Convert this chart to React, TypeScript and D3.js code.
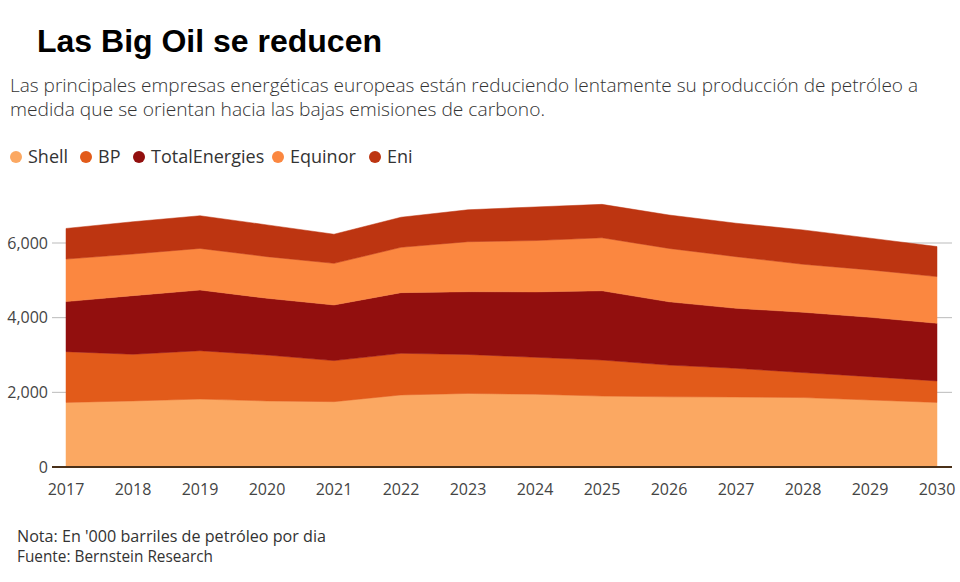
import React from 'react';
import * as d3 from 'd3';

// barriles de petróleo ('000/día)
const years = [2017, 2018, 2019, 2020, 2021, 2022, 2023, 2024, 2025, 2026, 2027, 2028, 2029, 2030];
const shell = [1730, 1770, 1820, 1770, 1750, 1930, 1970, 1950, 1900, 1880, 1875, 1860, 1795, 1730];
const bp = [1360, 1250, 1295, 1230, 1100, 1115, 1045, 990, 965, 850, 770, 670, 625, 575];
const totalEnergies = [1340, 1570, 1625, 1520, 1490, 1625, 1680, 1750, 1855, 1695, 1605, 1615, 1590, 1545];
const equinor = [1140, 1115, 1115, 1115, 1115, 1215, 1340, 1375, 1420, 1430, 1385, 1285, 1270, 1250];
const eni = [820, 865, 875, 850, 780, 805, 855, 900, 895, 895, 895, 920, 850, 805];
const yTicks = [0, 2000, 4000, 6000];

const seriesNames = ['Shell', 'BP', 'TotalEnergies', 'Equinor', 'Eni'];
const seriesValues = [shell, bp, totalEnergies, equinor, eni];
const colors = ['#fba862', '#e25b1a', '#920f0e', '#fb8740', '#bd3511'];

const W = 960;
const H = 582;

export default function App() {
  const rows = years.map((yr, i) => {
    const r: any = { year: yr };
    seriesNames.forEach((n, j) => (r[n] = seriesValues[j][i]));
    return r;
  });
  const stacked = d3.stack<any>().keys(seriesNames)(rows);

  const x = d3.scaleLinear().domain([2017, 2030]).range([66, 937]);
  const y = d3.scaleLinear().domain([0, 6000]).range([467, 243]);

  const area = d3
    .area<any>()
    .x((d) => x(d.data.year))
    .y0((d) => y(d[0]))
    .y1((d) => y(d[1]));

  const fmt = d3.format(',');
  const sans = "'Open Sans', 'Noto Sans', sans-serif";
  const legendX = [16, 86, 139, 278, 375];

  return (
    <svg width={W} height={H} style={{ position: 'absolute', left: 0, top: 0, background: '#fff' }}>
      <text x={37} y={52} fontFamily="'Liberation Sans', Arial, sans-serif" fontWeight="bold" fontSize={32}
        textLength={345} lengthAdjust="spacingAndGlyphs" fill="#000">
        Las Big Oil se reducen
      </text>
      <g fontFamily={sans} fontSize={18} fontWeight={300} fill="#333">
        <text x={10} y={92} textLength={908} lengthAdjust="spacingAndGlyphs">
          Las principales empresas energéticas europeas están reduciendo lentamente su producción de petróleo a
        </text>
        <text x={10} y={116} textLength={535} lengthAdjust="spacingAndGlyphs">
          medida que se orientan hacia las bajas emisiones de carbono.
        </text>
      </g>

      <g fontFamily={sans} fontSize={18} fill="#333">
        {seriesNames.map((n, i) => (
          <g key={n}>
            <circle cx={legendX[i]} cy={157} r={6} fill={colors[i]} />
            <text x={legendX[i] + 12} y={163}>{n}</text>
          </g>
        ))}
      </g>

      <g>
        {yTicks.slice(1).map((t) => (
          <line key={t} x1={52} x2={952} y1={y(t)} y2={y(t)} stroke="#bbb" strokeWidth={1} />
        ))}
        {yTicks.map((t) => (
          <text key={t} x={48} y={y(t)} dy="0.35em" textAnchor="end" fontFamily={sans} fontSize={16} fill="#444">
            {fmt(t)}
          </text>
        ))}
      </g>

      <g>
        {stacked.map((s, i) => (
          <path key={s.key} d={area(s) || ''} fill={colors[i]} stroke={colors[i]} strokeWidth={0.5} />
        ))}
      </g>

      <line x1={52} x2={952} y1={467} y2={467} stroke="#4a3018" strokeWidth={2} />

      <g fontFamily={sans} fontSize={16} fill="#444">
        {years.map((yr) => (
          <text key={yr} x={x(yr)} y={495} textAnchor="middle">{yr}</text>
        ))}
      </g>

      <g fontFamily={sans} fontSize={15.5} fill="#333">
        <text x={17} y={542} textLength={309} lengthAdjust="spacingAndGlyphs">Nota: En '000 barriles de petróleo por dia</text>
        <text x={17} y={562} textLength={196} lengthAdjust="spacingAndGlyphs">Fuente: Bernstein Research</text>
      </g>
    </svg>
  );
}
